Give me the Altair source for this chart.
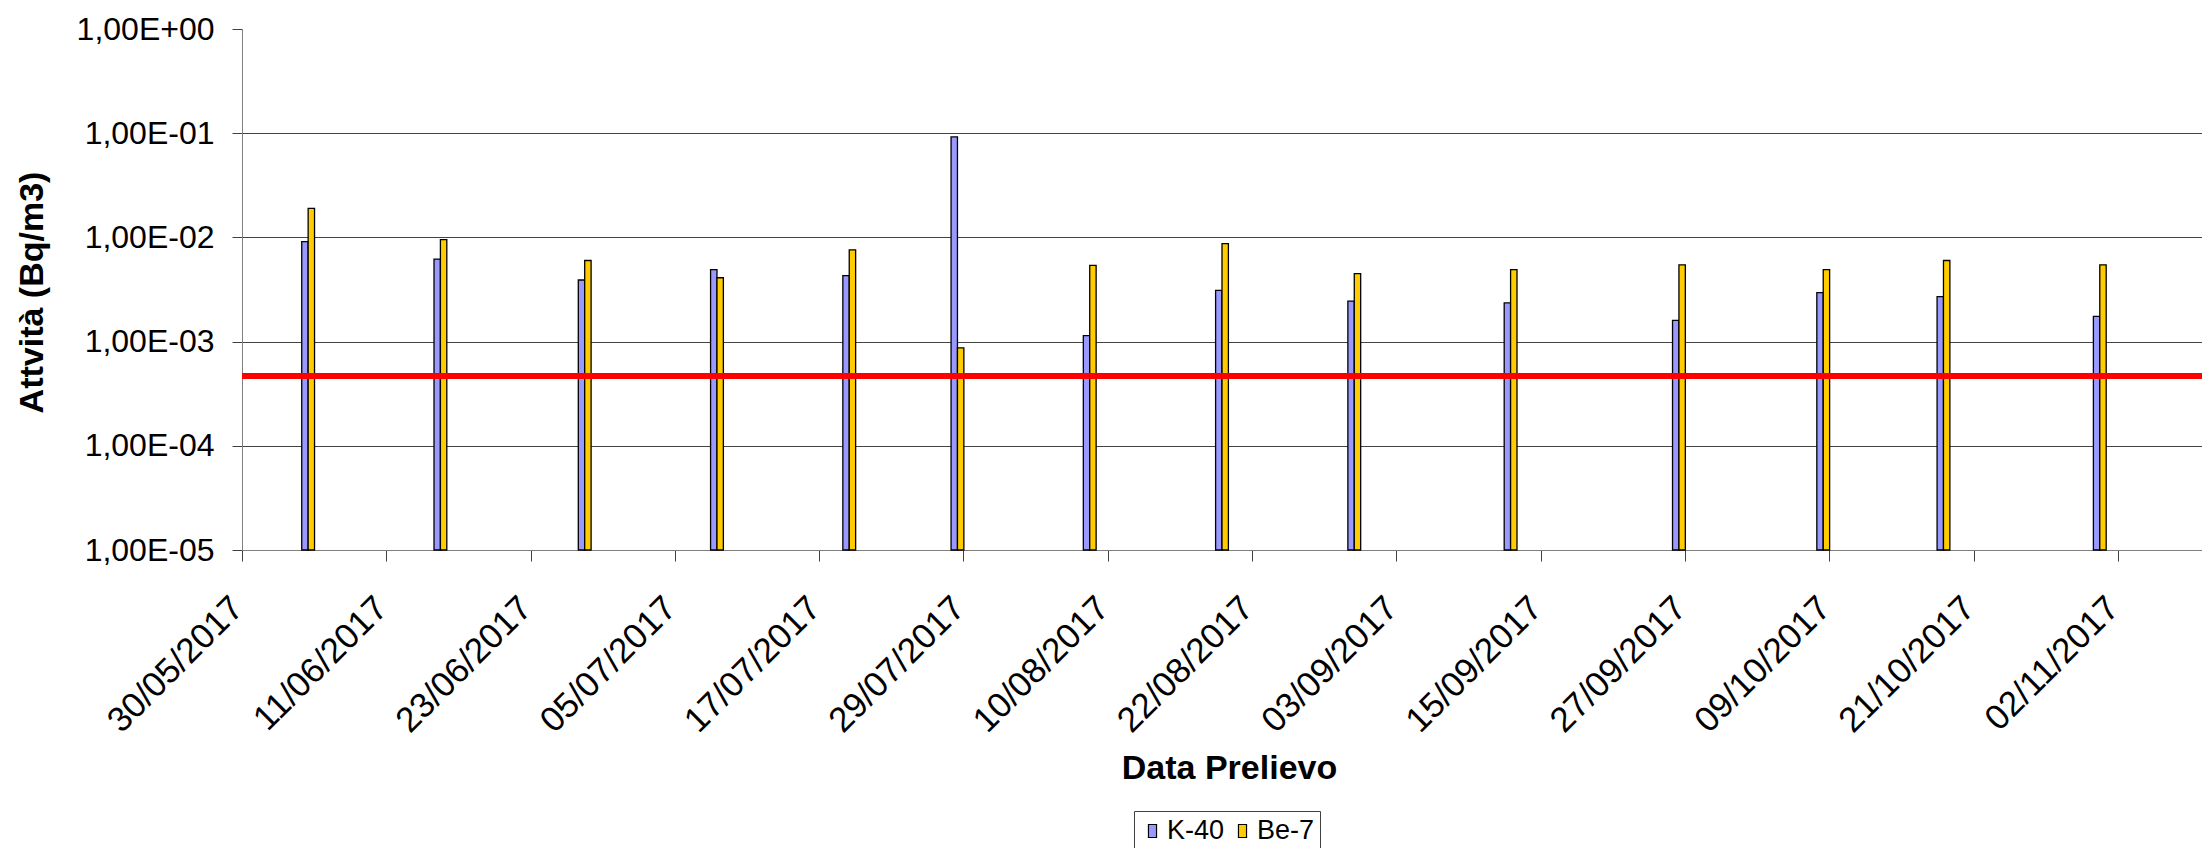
import altair as alt
import pandas as pd
from datetime import datetime, timezone

# ---- data ----
dates = ["04/06/2017", "15/06/2017", "27/06/2017", "08/07/2017", "19/07/2017",
         "28/07/2017", "08/08/2017", "19/08/2017", "30/08/2017", "12/09/2017",
         "26/09/2017", "08/10/2017", "18/10/2017", "31/10/2017"]
k40 = [9.1e-3, 6.2e-3, 3.9e-3, 4.9e-3, 4.3e-3, 9.2e-2, 1.14e-3,
       3.1e-3, 2.45e-3, 2.35e-3, 1.6e-3, 2.95e-3, 2.7e-3, 1.75e-3]
be7 = [1.9e-2, 9.5e-3, 6.0e-3, 4.1e-3, 7.6e-3, 8.7e-4, 5.4e-3,
       8.7e-3, 4.5e-3, 4.9e-3, 5.45e-3, 4.9e-3, 6.0e-3, 5.45e-3]
series = ["K-40", "Be-7"]
colors = ["#9999FF", "#FFCC00"]
mda = 4.65e-4

x_tick_labels = ["30/05/2017", "11/06/2017", "23/06/2017", "05/07/2017", "17/07/2017",
                 "29/07/2017", "10/08/2017", "22/08/2017", "03/09/2017", "15/09/2017",
                 "27/09/2017", "09/10/2017", "21/10/2017", "02/11/2017"]
x_start = "30/05/2017"
x_end = "09/11/2017"
y_ticks = [1e-5, 1e-4, 1e-3, 1e-2, 1e-1, 1.0]

DAY = 86400000


def to_ms(s):
    d = datetime.strptime(s, "%d/%m/%Y").replace(tzinfo=timezone.utc)
    return int(d.timestamp() * 1000)


# Excel date axis: each bar pair sits in the middle of its day slot
rows = []
for d, a, b in zip(dates, k40, be7):
    t = to_ms(d) + DAY // 2
    rows.append({"t": t, "isotopo": "K-40", "value": a})
    rows.append({"t": t, "isotopo": "Be-7", "value": b})
df = pd.DataFrame(rows)

FONT = "Liberation Sans, Arial, sans-serif"

x_enc = alt.X(
    "t:T",
    scale=alt.Scale(type="utc", domain=[to_ms(x_start), to_ms(x_end)], nice=False, padding=0),
    axis=alt.Axis(
        values=[to_ms(s) for s in x_tick_labels],
        labelExpr="utcFormat(datum.value, '%d/%m/%Y')",
        labelAngle=-45,
        labelAlign="right",
        labelBaseline="middle",
        labelFontSize=35,
        labelFont=FONT,
        labelColor="black",
        labelPadding=41,
        labelOffset=-5,
        labelOverlap=False,
        labelFlush=False,
        tickSize=11,
        tickColor="#404040",
        domainColor="#808080",
        grid=False,
        title="Data Prelievo",
        titleFont=FONT,
        titleFontSize=34,
        titleFontWeight="bold",
        titleColor="black",
        titleAlign="center",
        titleBaseline="alphabetic",
        titleX=987,
        titleY=228,
    ),
)

y_label_expr = ("'1,00E' + (round(log(datum.value)/LN10) < 0 ? '-' : '+') + "
                "(abs(round(log(datum.value)/LN10)) < 10 ? '0' : '') + "
                "abs(round(log(datum.value)/LN10))")

y_enc = alt.Y(
    "value:Q",
    scale=alt.Scale(type="log", domain=[y_ticks[0], y_ticks[-1]], nice=False),
    axis=alt.Axis(
        values=y_ticks,
        labelExpr=y_label_expr,
        labelFontSize=32,
        labelFont=FONT,
        labelColor="black",
        labelPadding=18,
        tickSize=10,
        tickColor="#404040",
        domainColor="#808080",
        grid=True,
        gridColor="#444444",
        gridWidth=1,
        gridOpacity={"condition": {"test": "datum.value >= 0.5", "value": 0}, "value": 1},
        title="Attvità (Bq/m3)",
        titleFont=FONT,
        titleFontSize=34,
        titleFontWeight="bold",
        titleColor="black",
        titleAngle=-90,
        titleAlign="center",
        titleBaseline="alphabetic",
        titleX=-200,
        titleY=263,
    ),
)

color_enc = alt.Color(
    "isotopo:N",
    scale=alt.Scale(domain=series, range=colors),
    legend=alt.Legend(
        orient="none",
        legendX=892,
        legendY=782,
        direction="horizontal",
        title=None,
        labelFont=FONT,
        labelFontSize=27,
        labelColor="black",
        labelOffset=1,
        columnPadding=4,
        padding=5,
        clipHeight=30,
        strokeColor="#404040",
        fillColor="white",
        symbolType="M-0.62,-1L0.62,-1L0.62,1L-0.62,1Z",
        symbolSize=169,
        symbolStrokeColor="black",
        symbolStrokeWidth=1.2,
        symbolOpacity=1,
    ),
)

bars_k = alt.Chart(df).transform_filter(alt.datum.isotopo == "K-40").mark_bar(
    width=6.4, xOffset=-3.2, stroke="black", strokeWidth=1.3, opacity=1
).encode(x=x_enc, y=y_enc, y2=alt.datum(y_ticks[0]), color=color_enc)

bars_b = alt.Chart(df).transform_filter(alt.datum.isotopo == "Be-7").mark_bar(
    width=6.4, xOffset=3.2, stroke="black", strokeWidth=1.3, opacity=1
).encode(x=x_enc, y=y_enc, y2=alt.datum(y_ticks[0]), color=color_enc)

red = alt.Chart(df).mark_rule(color="#FF0000", strokeWidth=5).encode(
    y=alt.datum(mda)
)

chart = alt.layer(bars_k, bars_b, red).properties(
    width=1960,
    height=521,
    autosize=alt.AutoSizeParams(type="none"),
    padding={"left": 234, "top": 21, "right": 0, "bottom": 298},
    background="white",
).configure_view(stroke="transparent")

chart.save("out.html", embed_options={"renderer": "svg", "actions": False})
